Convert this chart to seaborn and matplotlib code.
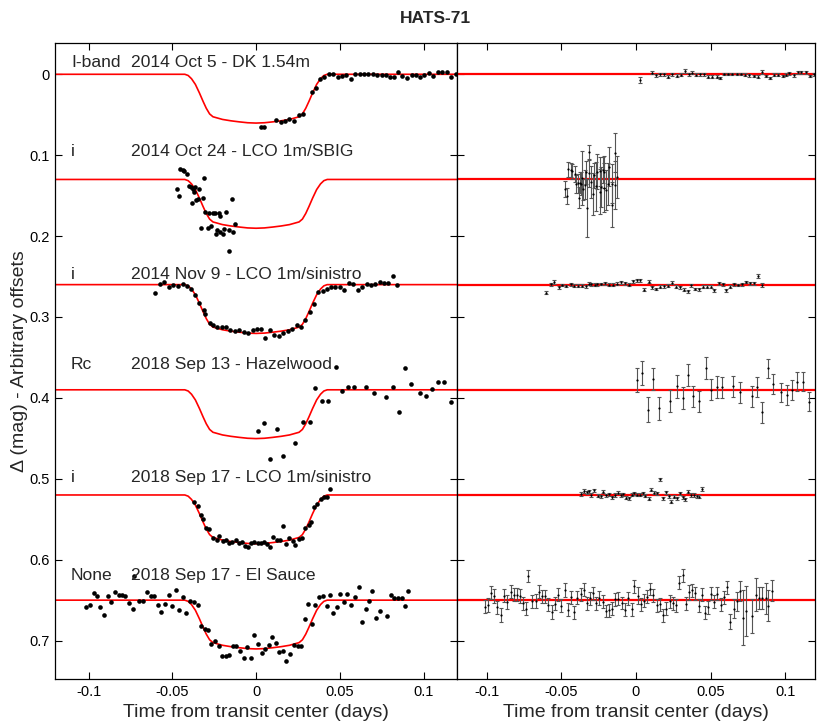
import numpy as np
import matplotlib
matplotlib.use("Agg")
import matplotlib.pyplot as plt
import seaborn as sns

# ---------------- data ----------------
offsets = [0.0, 0.13, 0.26, 0.39, 0.52, 0.65]
filters = ["I-band", "i", "i", "Rc", "i", "None"]
titles = ["2014 Oct 5 - DK 1.54m", "2014 Oct 24 - LCO 1m/SBIG", "2014 Nov 9 - LCO 1m/sinistro",
          "2018 Sep 13 - Hazelwood", "2018 Sep 17 - LCO 1m/sinistro", "2018 Sep 17 - El Sauce"]

# transit model (depth in mag vs time from centre)
model_x = [-0.12, -0.0425, -0.0405, -0.0385, -0.0362, -0.0338, -0.0316, -0.0297, -0.0277, -0.0257,
           -0.020, -0.015, -0.010, -0.005, 0.0, 0.005, 0.010, 0.015, 0.020, 0.0257, 0.0277, 0.0297,
           0.0316, 0.0338, 0.0362, 0.0385, 0.0405, 0.0425, 0.12]
model_d = [0.0, 0.0, 0.0015, 0.0055, 0.0125, 0.023, 0.0335, 0.042, 0.049, 0.0525,
           0.0558, 0.0575, 0.0588, 0.0599, 0.0603, 0.0599, 0.0588, 0.0575, 0.0558, 0.0525, 0.049, 0.042,
           0.0335, 0.023, 0.0125, 0.0055, 0.0015, 0.0, 0.0]

ds1_x = [0.0029, 0.0049, 0.0119, 0.0149, 0.0175, 0.0198, 0.0228, 0.0254, 0.0278, 0.0334, 0.0357, 0.0383,
         0.0407, 0.0433, 0.0457, 0.0487, 0.0512, 0.0540, 0.0566, 0.0592, 0.0620, 0.0646, 0.0671, 0.0699,
         0.0725, 0.0751, 0.0775, 0.0801, 0.0826, 0.0850, 0.0874, 0.0904, 0.0930, 0.0954, 0.0980, 0.1005,
         0.1033, 0.1059, 0.1087, 0.1113, 0.1139, 0.1164, 0.1192]
ds1_y = [0.0655, 0.0655, 0.0565, 0.0594, 0.0573, 0.0557, 0.0573, 0.0507, 0.0490, 0.0219, 0.0174, 0.0062,
         0.0029, -0.0004, -0.0004, 0.0029, 0.0021, 0.0013, 0.0054, -0.0008, -0.0008, -0.0008, -0.0008,
         -0.0004, 0.0004, 0.0004, 0.0004, 0.0029, 0.0029, -0.0024, 0.0021, 0.0050, 0.0004, 0.0004, 0.0029,
         0.0009, -0.0020, 0.0021, -0.0028, -0.0024, -0.0028, 0.0029, 0.0000]

ds2_x = [-0.0473, -0.0462, -0.0454, -0.0438, -0.0428, -0.0412, -0.0402, -0.0388, -0.0382, -0.0378,
         -0.0368, -0.0362, -0.0358, -0.0344, -0.0338, -0.0328, -0.0318, -0.0312, -0.0302, -0.0289,
         -0.0279, -0.0269, -0.0259, -0.0243, -0.0239, -0.0235, -0.0219, -0.0215, -0.0213, -0.0199,
         -0.0189, -0.0179, -0.0163, -0.0159, -0.0144, -0.0140, -0.0124]
ds2_y = [0.0121, 0.0200, -0.0126, -0.0118, -0.0101, -0.0064, 0.0076, 0.0097, 0.0294, 0.0121,
         0.0150, 0.0097, 0.0253, 0.0245, 0.0121, 0.0604, 0.0225, -0.0015, 0.0398, 0.0604,
         0.0410, 0.0575, 0.0410, 0.0418, 0.0674, 0.0624, 0.0418, 0.0645, 0.0451, 0.0678,
         0.0616, 0.0402, 0.0880, 0.0624, 0.0245, 0.0649, 0.0550]

ds3_x = [-0.0601, -0.0573, -0.0547, -0.0517, -0.0493, -0.0468, -0.0438, -0.0414, -0.0388, -0.0362,
         -0.0338, -0.0312, -0.0302, -0.0275, -0.0259, -0.0233, -0.0205, -0.0179, -0.0153, -0.0126,
         -0.0100, -0.0074, -0.0046, -0.0020, 0.0006, 0.0029, 0.0055, 0.0085, 0.0109, 0.0135,
         0.0159, 0.0188, 0.0214, 0.0242, 0.0268, 0.0294, 0.0322, 0.0347, 0.0371, 0.0397,
         0.0421, 0.0447, 0.0473, 0.0500, 0.0526, 0.0556, 0.0582, 0.0606, 0.0632, 0.0660,
         0.0685, 0.0711, 0.0739, 0.0765, 0.0791, 0.0819, 0.0844]
ds3_y = [0.0100, -0.0003, -0.0032, 0.0034, 0.0005, 0.0017, -0.0003, 0.0017, 0.0058, 0.0129,
         0.0232, 0.0314, 0.0363, 0.0471, 0.0499, 0.0520, 0.0520, 0.0528, 0.0561, 0.0574,
         0.0561, 0.0582, 0.0602, 0.0561, 0.0549, 0.0549, 0.0664, 0.0561, 0.0623, 0.0635,
         0.0594, 0.0574, 0.0553, 0.0499, 0.0520, 0.0438, 0.0343, 0.0240, 0.0096, 0.0079,
         0.0058, 0.0026, 0.0026, 0.0026, 0.0067, -0.0015, -0.0003, 0.0067, 0.0026, -0.0007,
         0.0005, -0.0003, -0.0032, -0.0015, -0.0015, -0.0106, 0.0005]

ds4_x = [0.0014, 0.0049, 0.0085, 0.0123, 0.0159, 0.0234, 0.0282, 0.0322, 0.0353, 0.0393, 0.0427,
         0.0477, 0.0512, 0.0550, 0.0586, 0.0656, 0.0705, 0.0779, 0.0815, 0.0854, 0.0890, 0.0928,
         0.0980, 0.1017, 0.1053, 0.1089, 0.1125, 0.1162]
ds4_y = [0.0505, 0.0414, 0.0859, 0.0480, 0.0818, 0.0662, 0.0394, 0.0394, -0.0019, 0.0142, 0.0142,
         -0.0278, 0.0011, -0.0031, -0.0031, -0.0039, 0.0036, 0.0085, -0.0039, 0.0278, -0.0266, -0.0072,
         0.0043, 0.0073, -0.0006, -0.0093, -0.0100, 0.0151]

ds5_x = [-0.0372, -0.0348, -0.0328, -0.0314, -0.0299, -0.0279, -0.0255, -0.0235, -0.0219, -0.0199,
         -0.0179, -0.0163, -0.0144, -0.0120, -0.0100, -0.0084, -0.0068, -0.0050, -0.0030, -0.0010,
         0.0010, 0.0029, 0.0049, 0.0063, 0.0085, 0.0103, 0.0123, 0.0143, 0.0159, 0.0178,
         0.0198, 0.0218, 0.0234, 0.0254, 0.0274, 0.0294, 0.0314, 0.0328, 0.0347, 0.0367,
         0.0387, 0.0407, 0.0423, 0.0441]
ds5_y = [0.0082, 0.0136, 0.0247, 0.0301, 0.0412, 0.0424, 0.0536, 0.0556, 0.0507, 0.0564,
         0.0556, 0.0598, 0.0577, 0.0556, 0.0589, 0.0585, 0.0630, 0.0639, 0.0598, 0.0581,
         0.0598, 0.0598, 0.0577, 0.0606, 0.0639, 0.0523, 0.0556, 0.0556, 0.0379, 0.0606,
         0.0527, 0.0564, 0.0622, 0.0548, 0.0536, 0.0412, 0.0371, 0.0330, 0.0144, 0.0111,
         0.0053, 0.0029, 0.0021, -0.0074]

ds6_x = [-0.1014, -0.0994, -0.0970, -0.0950, -0.0929, -0.0905, -0.0885, -0.0865, -0.0841, -0.0821,
         -0.0799, -0.0780, -0.0756, -0.0736, -0.0727, -0.0696, -0.0672, -0.0650, -0.0627, -0.0607,
         -0.0587, -0.0565, -0.0543, -0.0521, -0.0501, -0.0477, -0.0458, -0.0438, -0.0418, -0.0394,
         -0.0372, -0.0348, -0.0328, -0.0305, -0.0287, -0.0269, -0.0245, -0.0223, -0.0203, -0.0179,
         -0.0159, -0.0140, -0.0120, -0.0096, -0.0074, -0.0052, -0.0030, -0.0010, 0.0012, 0.0033,
         0.0055, 0.0075, 0.0097, 0.0117, 0.0139, 0.0161, 0.0182, 0.0204, 0.0226, 0.0248,
         0.0270, 0.0290, 0.0312, 0.0334, 0.0353, 0.0377, 0.0397, 0.0421, 0.0441, 0.0461,
         0.0483, 0.0502, 0.0524, 0.0546, 0.0568, 0.0590, 0.0612, 0.0632, 0.0656, 0.0675,
         0.0695, 0.0719, 0.0739, 0.0781, 0.0803, 0.0826, 0.0846, 0.0870, 0.0888, 0.0910]
ds6_y = [0.0080, 0.0059, -0.0093, -0.0052, 0.0088, 0.0183, -0.0052, 0.0022, -0.0105, -0.0064,
         -0.0064, -0.0052, 0.0038, 0.0109, -0.0300, 0.0014, 0.0014, -0.0105, -0.0048, -0.0048,
         0.0059, 0.0142, 0.0047, -0.0064, 0.0068, -0.0126, 0.0121, -0.0036, 0.0155, 0.0006,
         0.0022, 0.0059, 0.0319, 0.0360, 0.0368, 0.0541, 0.0504, 0.0562, 0.0690, 0.0690,
         0.0681, 0.0566, 0.0566, 0.0624, 0.0711, 0.0575, 0.0711, 0.0430, 0.0545, 0.0649,
         0.0603, 0.0554, 0.0451, 0.0525, 0.0640, 0.0624, 0.0748, 0.0665, 0.0554, 0.0566,
         0.0566, 0.0236, 0.0047, 0.0294, 0.0056, -0.0043, -0.0056, 0.0072, -0.0064, 0.0155,
         0.0088, -0.0080, 0.0022, -0.0080, 0.0059, -0.0036, -0.0159, 0.0266, 0.0105, 0.0014,
         -0.0114, 0.0220, 0.0134, 0.0195, -0.0068, -0.0027, -0.0027, -0.0023, 0.0068, -0.0114]

# residuals (right panel)
res1_x = [0.0025, 0.0108, 0.0137, 0.0164, 0.0187, 0.0216, 0.0243, 0.0272, 0.0299, 0.0326, 0.0355, 0.0378,
          0.0400, 0.0429, 0.0456, 0.0483, 0.0512, 0.0542, 0.0562, 0.0591, 0.0618, 0.0647, 0.0677, 0.0704,
          0.0730, 0.0760, 0.0789, 0.0816, 0.0843, 0.0872, 0.0899, 0.0928, 0.0955, 0.0985, 0.1007, 0.1029,
          0.1059, 0.1086, 0.1108, 0.1137, 0.1164, 0.1194]
res1_y = [0.0070, -0.0021, 0.0012, 0.0, 0.0, 0.0029, 0.0, 0.0016, 0.0004, -0.0045, 0.0, -0.0021,
          0.0004, 0.0, 0.0, 0.0029, 0.0029, 0.0029, 0.0045, -0.0004, -0.0004, -0.0004, -0.0004, -0.0004,
          0.0004, 0.0012, 0.0021, 0.0029, -0.0025, 0.0021, 0.0045, 0.0004, 0.0004, 0.0021, 0.0004, -0.0012,
          0.0012, -0.0025, -0.0025, -0.0025, 0.0021, 0.0]
res1_err = [0.0035, 0.0017, 0.0017, 0.0017, 0.0017, 0.0017, 0.0017, 0.0017, 0.0017, 0.0025, 0.0017, 0.0017,
            0.0017, 0.0017, 0.0017, 0.0017, 0.0017, 0.0017, 0.0017, 0.0017, 0.0017, 0.0017, 0.0017, 0.0017,
            0.0017, 0.0017, 0.0017, 0.0017, 0.0025, 0.0017, 0.0017, 0.0017, 0.0017, 0.0017, 0.0017, 0.0017,
            0.0017, 0.0017, 0.0017, 0.0017, 0.0017, 0.0017]

res2_y = [0.0121, 0.0200, -0.0126, -0.0118, -0.0101, -0.0069, 0.0056, 0.0047, 0.0224, 0.0041,
          0.0050, -0.0018, 0.0123, 0.0065, -0.0089, 0.0354, -0.0075, -0.0340, 0.0028, 0.0184,
          -0.0050, 0.0085, -0.0098, -0.0102, 0.0149, 0.0094, -0.0122, 0.0102, -0.0094, 0.0128,
          0.0060, -0.0158, 0.0310, 0.0054, -0.0333, 0.0069, -0.0035]
res2_err = [0.010, 0.010, 0.009, 0.009, 0.009, 0.010, 0.011, 0.012, 0.013, 0.013,
            0.014, 0.033, 0.013, 0.018, 0.014, 0.036, 0.017, 0.009, 0.020, 0.026,
            0.015, 0.030, 0.022, 0.018, 0.028, 0.025, 0.016, 0.030, 0.020, 0.025,
            0.026, 0.024, 0.028, 0.024, 0.024, 0.030, 0.026]

res3_y = [0.0100, -0.0003, -0.0032, 0.0034, 0.0005, 0.0017, -0.0003, 0.0012, 0.0013, 0.0015,
          0.0022, -0.0012, -0.0007, 0.0001, -0.0006, -0.0008, -0.0019, 0.0001, 0.0000, -0.0009,
          -0.0031, -0.0015, 0.0000, -0.0043, -0.0056, -0.0055, 0.0063, -0.0035, 0.0033, 0.0054,
          0.0024, 0.0018, 0.0013, -0.0023, 0.0025, 0.0033, 0.0063, 0.0080, 0.0006, 0.0054,
          0.0058, 0.0026, 0.0026, 0.0026, 0.0067, -0.0015, -0.0003, 0.0067, 0.0026, -0.0007,
          0.0005, -0.0003, -0.0032, -0.0015, -0.0015, -0.0106, 0.0005]
res3_err = [0.0020, 0.0020, 0.0020, 0.0018, 0.0018, 0.0018, 0.0018, 0.0018, 0.0018, 0.0018,
            0.0018, 0.0018, 0.0018, 0.0018, 0.0018, 0.0018, 0.0018, 0.0018, 0.0018, 0.0018,
            0.0018, 0.0018, 0.0018, 0.0018, 0.0018, 0.0018, 0.0018, 0.0018, 0.0018, 0.0018,
            0.0018, 0.0018, 0.0018, 0.0018, 0.0018, 0.0018, 0.0018, 0.0018, 0.0018, 0.0018,
            0.0018, 0.0018, 0.0018, 0.0018, 0.0018, 0.0018, 0.0018, 0.0018, 0.0018, 0.0018,
            0.0018, 0.0018, 0.0018, 0.0018, 0.0018, 0.0020, 0.0020]

res4_x = [0.0007, 0.0043, 0.0079, 0.0115, 0.0151, 0.0227, 0.0277, 0.0312, 0.0348, 0.0384, 0.0420,
          0.0470, 0.0506, 0.0542, 0.0580, 0.0650, 0.0699, 0.0775, 0.0811, 0.0847, 0.0883, 0.0919,
          0.0973, 0.1014, 0.1045, 0.1081, 0.1122, 0.1158]
res4_y = [-0.0124, -0.0206, 0.0247, -0.0132, 0.0231, 0.0136, -0.0041, 0.0099, -0.0185, 0.0082, 0.0144,
          -0.0268, 0.0, -0.0033, -0.0033, -0.0041, 0.0033, 0.0082, -0.0033, 0.0280, -0.0264, -0.0074,
          0.0033, 0.0066, 0.0, -0.0099, -0.0099, 0.0148]
res4_err = [0.0148, 0.0144, 0.0155, 0.0140, 0.0148, 0.0138, 0.0138, 0.0136, 0.0134, 0.0134, 0.0130,
            0.0134, 0.0130, 0.0134, 0.0130, 0.0128, 0.0128, 0.0128, 0.0124, 0.0128, 0.0122, 0.0124,
            0.0120, 0.0128, 0.0124, 0.0117, 0.0117, 0.0117]

res5_y = [-0.0013, -0.0050, -0.0031, -0.0043, 0.0000, -0.0059, 0.0010, 0.0018, -0.0040, 0.0006,
          -0.0009, 0.0027, 0.0000, -0.0027, 0.0001, -0.0007, 0.0035, 0.0040, -0.0003, -0.0021,
          -0.0004, -0.0003, -0.0022, 0.0010, 0.0048, -0.0064, -0.0026, -0.0021, -0.0193, 0.0041,
          -0.0031, 0.0016, 0.0084, 0.0021, 0.0041, -0.0019, 0.0027, 0.0052, -0.0042, 0.0001,
          0.0001, 0.0016, 0.0020, -0.0074]
res5_err = [0.0020, 0.0020, 0.0020, 0.0020, 0.0020, 0.0020, 0.0020, 0.0020, 0.0020, 0.0020,
            0.0020, 0.0020, 0.0020, 0.0020, 0.0020, 0.0020, 0.0020, 0.0020, 0.0020, 0.0020,
            0.0020, 0.0020, 0.0020, 0.0020, 0.0020, 0.0020, 0.0020, 0.0020, 0.0022, 0.0020,
            0.0020, 0.0020, 0.0020, 0.0020, 0.0020, 0.0020, 0.0020, 0.0020, 0.0020, 0.0020,
            0.0020, 0.0020, 0.0020, 0.0030]

res6_y = [0.0080, 0.0059, -0.0093, -0.0052, 0.0088, 0.0183, -0.0052, 0.0022, -0.0105, -0.0064,
          -0.0064, -0.0052, 0.0038, 0.0109, -0.0300, 0.0014, 0.0014, -0.0105, -0.0048, -0.0048,
          0.0059, 0.0142, 0.0047, -0.0064, 0.0068, -0.0126, 0.0121, -0.0036, 0.0151, -0.0028,
          -0.0073, -0.0127, 0.0041, -0.0024, -0.0087, 0.0037, -0.0028, 0.0017, 0.0134, 0.0125,
          0.0109, -0.0012, -0.0017, 0.0035, 0.0117, -0.0024, 0.0110, -0.0172, -0.0057, 0.0048,
          0.0005, -0.0040, -0.0138, -0.0059, 0.0062, 0.0052, 0.0184, 0.0109, 0.0011, 0.0036,
          0.0064, -0.0214, -0.0308, 0.0045, -0.0096, -0.0121, -0.0087, 0.0069, -0.0064, 0.0155,
          0.0088, -0.0080, 0.0022, -0.0080, 0.0059, -0.0036, -0.0159, 0.0266, 0.0105, 0.0014,
          -0.0114, 0.0220, 0.0134, 0.0195, -0.0068, -0.0027, -0.0027, -0.0023, 0.0068, -0.0114]
res6_err = [0.0080, 0.0085, 0.0080, 0.0085, 0.0080, 0.0090, 0.0080, 0.0085, 0.0080, 0.0080,
            0.0080, 0.0085, 0.0080, 0.0080, 0.0076, 0.0080, 0.0085, 0.0080, 0.0080, 0.0080,
            0.0080, 0.0085, 0.0080, 0.0080, 0.0080, 0.0085, 0.0080, 0.0080, 0.0080, 0.0080,
            0.0080, 0.0080, 0.0080, 0.0080, 0.0080, 0.0080, 0.0085, 0.0080, 0.0080, 0.0080,
            0.0080, 0.0080, 0.0080, 0.0080, 0.0080, 0.0080, 0.0080, 0.0080, 0.0100, 0.0080,
            0.0080, 0.0080, 0.0080, 0.0080, 0.0080, 0.0080, 0.0080, 0.0080, 0.0080, 0.0080,
            0.0080, 0.0080, 0.0080, 0.0080, 0.0090, 0.0080, 0.0080, 0.0080, 0.0080, 0.0080,
            0.0080, 0.0080, 0.0080, 0.0080, 0.0080, 0.0080, 0.0080, 0.0090, 0.0120, 0.0120,
            0.0120, 0.0340, 0.0310, 0.0210, 0.0200, 0.0140, 0.0140, 0.0190, 0.0190, 0.0130]

# ---------------- plotting ----------------
sns.set_style("ticks")
plt.rcParams["font.family"] = ["Liberation Sans", "DejaVu Sans"]

fig = plt.figure(figsize=(8.3, 7.26), dpi=100)
axL = fig.add_axes([0.0663, 0.0647, 0.4843, 0.8761])
axR = fig.add_axes([0.5506, 0.0647, 0.4313, 0.8761])

lc_x = [ds1_x, ds2_x, ds3_x, ds4_x, ds5_x, ds6_x]
lc_y = [ds1_y, ds2_y, ds3_y, ds4_y, ds5_y, ds6_y]
rs_x = [res1_x, ds2_x, ds3_x, res4_x, ds5_x, ds6_x]
rs_y = [res1_y, res2_y, res3_y, res4_y, res5_y, res6_y]
rs_e = [res1_err, res2_err, res3_err, res4_err, res5_err, res6_err]
label_y = [-0.0150, 0.0960, 0.2470, 0.3590, 0.4990, 0.6190]

mx = np.array(model_x)
for i, off in enumerate(offsets):
    sns.lineplot(x=mx, y=np.array(model_d) + off, ax=axL, color="#ff0000", lw=1.2,
                 sort=False, estimator=None)
    sns.scatterplot(x=np.array(lc_x[i]), y=np.array(lc_y[i]) + off, ax=axL, color="black",
                    s=11, linewidth=0, zorder=3)
    axL.text(-0.1105, label_y[i], filters[i], fontsize=12.6, ha="left", va="center")
    axL.text(-0.0745, label_y[i], titles[i], fontsize=12.6, ha="left", va="center")

    axR.axhline(off, color="#ff0000", lw=1.6, zorder=1)
    ry = np.array(rs_y[i]) + off
    axR.errorbar(rs_x[i], ry, yerr=rs_e[i], fmt="none", ecolor="#555555", elinewidth=0.8,
                 capsize=1.6, capthick=0.8, zorder=2)
    sns.scatterplot(x=np.array(rs_x[i]), y=ry, ax=axR, color="black", s=2.5, linewidth=0, zorder=3)

xticks = [-0.1, -0.05, 0.0, 0.05, 0.1]
xticklabels = ["-0.1", "-0.05", "0", "0.05", "0.1"]
yticks = [0.0, 0.1, 0.2, 0.3, 0.4, 0.5, 0.6, 0.7]
yticklabels = ["0", "0.1", "0.2", "0.3", "0.4", "0.5", "0.6", "0.7"]

for ax in (axL, axR):
    ax.set_xlim(-0.12, 0.12)
    ax.set_ylim(0.7475, -0.0387)
    ax.set_xticks(xticks)
    ax.set_xticklabels(xticklabels)
    ax.set_yticks(yticks)
    ax.tick_params(direction="in", length=5, width=0.8, top=True, right=True, labelsize=10.5,
                   colors="black", pad=4)
    for s in ax.spines.values():
        s.set_linewidth(0.9)
        s.set_color("black")
    ax.set_xlabel("Time from transit center (days)", fontsize=14, labelpad=4)
    ax.set_ylabel("")

axL.set_yticklabels(yticklabels)
axR.set_yticklabels([])
axL.set_ylabel("\u0394 (mag) - Arbitrary offsets", fontsize=14)
axL.yaxis.set_label_coords(-0.068, 0.5)
fig.text(0.525, 0.975, "HATS-71", fontsize=12.5, fontweight="bold", ha="center", va="center")

fig.savefig("out.png", dpi=100)
